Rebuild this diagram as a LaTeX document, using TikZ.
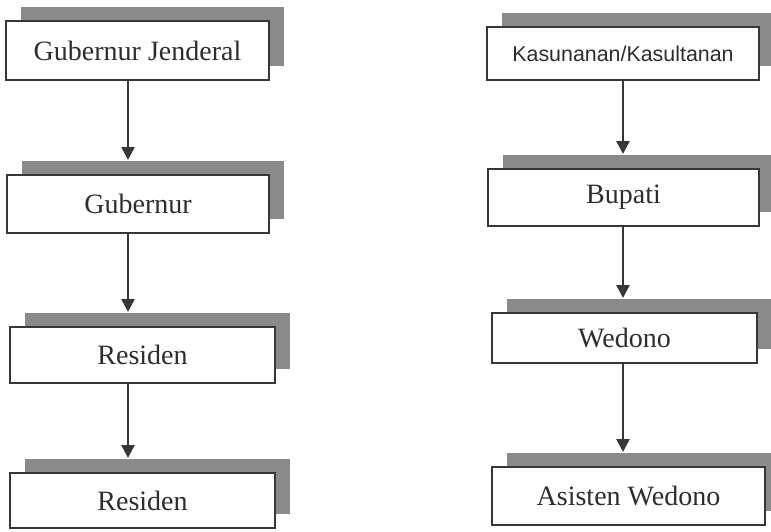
\documentclass[tikz,border=0pt]{standalone}
\usepackage{fontspec}
\setmainfont{Liberation Serif}
\newfontfamily\kasfont{Liberation Sans}
\usepackage{tikz}
\usetikzlibrary{arrows.meta,calc,shadows}
\definecolor{shadowgray}{RGB}{138,138,138}
\definecolor{boxline}{RGB}{55,55,55}
\definecolor{textgray}{RGB}{45,45,45}

\begin{document}
\begin{tikzpicture}[
    x=0.5pt, y=-0.5pt,
    level/.style={rectangle, draw=boxline, line width=1pt, fill=white, text=textgray,
        font=\fontsize{14}{16}\selectfont, inner sep=0pt,
        drop shadow={shadow xshift=7.5pt, shadow yshift=7pt, fill=shadowgray, opacity=1}},
    arrow/.style={-{Triangle[width=6.5pt,length=6.5pt]}, line width=1.3pt, draw=boxline}
]
\useasboundingbox (0,0) rectangle (771,531);
\clip (0,0) rectangle (771,531);

% colonial chain (left)
\node[level, minimum width=131.5pt, minimum height=29.5pt] (l1) at (137.5,50.5) {Gubernur Jenderal};
\node[level, minimum width=131pt, minimum height=29pt] (l2) at (138,204) {Gubernur};
\node[level, minimum width=132.5pt, minimum height=28pt] (l3) at (142.5,355) {Residen};
\node[level, minimum width=132.5pt, minimum height=27.5pt] (l4) at (142.5,500.5) {Residen};

% native chain (right)
\node[level, minimum width=136pt, minimum height=26.5pt,
      font=\kasfont\fontsize{10.7}{12}\selectfont] (r1) at (623,53.5) {Kasunanan/Kasultanan};
\node[level, minimum width=135.5pt, minimum height=28.5pt] (r2) at (623.5,197.5) {Bupati};
\node[level, minimum width=132.5pt, minimum height=25pt] (r3) at (624.5,338) {Wedono};
\node[level, minimum width=136.5pt, minimum height=29pt] (r4) at (628.5,496) {Asisten Wedono};

\coordinate (lx) at (128,0);
\coordinate (rx) at (623,0);
\foreach \a/\b in {l1/l2, l2/l3, l3/l4}
    \draw[arrow] (\a.south -| lx) -- ($(\b.north -| lx)+(0,-14)$);
\foreach \a/\b in {r1/r2, r2/r3, r3/r4}
    \draw[arrow] (\a.south -| rx) -- ($(\b.north -| rx)+(0,-14)$);
\end{tikzpicture}
\end{document}
